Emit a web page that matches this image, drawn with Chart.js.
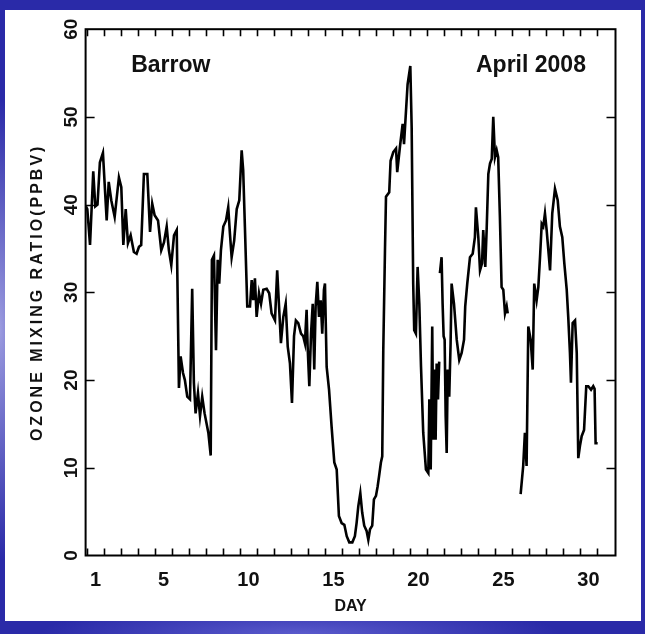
<!DOCTYPE html>
<html>
<head>
<meta charset="utf-8">
<script src="https://cdn.jsdelivr.net/npm/chart.js@4.4.1/dist/chart.umd.min.js"></script>
<style>
  html, body { margin: 0; padding: 0; }
  body {
    width: 645px; height: 634px; overflow: hidden; position: relative;
    background-color: #2a2aa8;
    background-image:
      radial-gradient(ellipse 40px 230px at 0px 330px, #9c9ce0 0%, rgba(42,42,168,0) 100%),
      radial-gradient(ellipse 260px 30px at 300px 634px, #5a5acc 0%, rgba(42,42,168,0) 100%);
  }
  #panel { position: absolute; left: 5px; top: 10px; width: 636px; height: 611px; background: #fff; }
  #chart { position: absolute; left: 0; top: 0; }
</style>
</head>
<body>
<div id="panel"></div>
<canvas id="chart" width="645" height="634"></canvas>
<script>
// April 2008, day of month (fractional), ozone in ppbv; null = no data
const days = [
  0.94, 1.02, 1.18, 1.37, 1.49, 1.62, 1.76, 1.94, 2.16, 2.28, 2.43, 2.63, 2.88, 3.02, 3.14, 3.28,
  3.41, 3.57, 3.76, 3.92, 4.06, 4.19, 4.35, 4.55, 4.71, 4.84, 4.98, 5.18, 5.37, 5.53, 5.69, 5.82,
  5.96, 6.12, 6.28, 6.41, 6.51, 6.65, 6.76, 6.90, 7.06, 7.19, 7.29, 7.39, 7.53, 7.65, 7.78, 7.92,
  8.14, 8.28, 8.35, 8.47, 8.59, 8.69, 8.78, 8.88, 9.02, 9.18, 9.31, 9.41, 9.51, 9.66, 9.81, 9.96,
  10.10, 10.19, 10.29, 10.43, 10.59, 10.69, 10.78, 10.88, 10.98, 11.12, 11.24, 11.37, 11.57, 11.72,
  11.86, 12.06, 12.19, 12.31, 12.41, 12.55, 12.69, 12.81, 12.94, 13.06, 13.18, 13.29, 13.43, 13.59,
  13.72, 13.82, 13.92, 13.98, 14.08, 14.18, 14.28, 14.37, 14.45, 14.55, 14.65, 14.75, 14.84, 14.94,
  15.00, 15.10, 15.24, 15.39, 15.55, 15.69, 15.82, 15.98, 16.14, 16.28, 16.43, 16.61, 16.76, 16.86,
  16.96, 17.08, 17.19, 17.31, 17.45, 17.55, 17.65, 17.78, 17.88, 18.00, 18.10, 18.18, 18.29, 18.37,
  18.43, 18.53, 18.59, 18.78, 18.86, 19.02, 19.18, 19.25, 19.41, 19.57, 19.65, 19.86, 20.02, 20.10,
  20.19, 20.25, 20.35, 20.45, 20.55, 20.65, 20.78, 20.94, 21.08, 21.14, 21.22, 21.31, 21.37, 21.45,
  21.51, 21.57, 21.65, 21.72, 21.74, 21.76, 21.86, 21.92, 21.98, 22.04, 22.10, 22.16, 22.22, 22.31,
  22.39, 22.45, 22.59, 22.75, 22.90, 23.04, 23.18, 23.25, 23.37, 23.53, 23.69, 23.82, 23.88, 24.02,
  24.12, 24.24, 24.31, 24.43, 24.51, 24.61, 24.71, 24.81, 24.90, 25.00, 25.10, 25.19, 25.29, 25.39,
  25.49, 25.59, 25.69, 25.75, 26.00, 26.51, 26.66, 26.76, 26.86, 26.96, 27.10, 27.22, 27.31, 27.45,
  27.55, 27.65, 27.75, 27.84, 27.94, 28.04, 28.24, 28.37, 28.53, 28.69, 28.82, 28.96, 29.08, 29.22,
  29.31, 29.41, 29.47, 29.57, 29.71, 29.81, 29.90, 30.00, 30.10, 30.24, 30.37, 30.49, 30.65, 30.78,
  30.86, 30.92, 31.04
];
const ozone = [
  39.8, 39.5, 35.4, 43.8, 39.8, 40.0, 44.8, 45.9, 38.2, 42.6, 40.5, 38.6, 43.1, 42.0, 35.4, 39.5,
  35.6, 36.5, 34.6, 34.4, 35.2, 35.4, 43.5, 43.5, 36.9, 40.1, 38.8, 38.2, 34.8, 35.7, 37.5, 34.8,
  33.1, 36.5, 37.1, 19.1, 22.7, 20.8, 20.0, 18.1, 17.8, 30.4, 19.7, 16.2, 18.5, 15.9, 18.1, 16.2,
  14.0, 11.4, 33.7, 34.2, 23.4, 33.7, 31.0, 34.8, 37.5, 38.2, 39.7, 36.7, 34.0, 35.9, 39.5, 40.5,
  46.2, 43.9, 37.5, 28.4, 28.4, 31.4, 29.1, 31.6, 27.2, 29.9, 28.7, 30.3, 30.4, 29.9,
  27.6, 26.8, 32.5, 28.0, 24.2, 27.2, 28.7, 23.8, 21.9, 17.4, 25.0, 26.8, 26.5, 25.3,
  25.0, 24.2, 28.0, 23.8, 19.3, 25.3, 28.7, 21.2, 28.4, 31.2, 27.2, 29.1, 25.3, 30.3,
  31.0, 21.5, 18.9, 14.7, 10.6, 9.8, 4.5, 3.7, 3.5, 2.2, 1.5, 1.5, 2.2, 3.7,
  5.6, 7.1, 4.9, 3.4, 2.8, 1.8, 3.0, 3.4, 6.4, 6.8, 7.9, 9.0, 10.6, 11.3,
  23.4, 34.8, 40.9, 41.4, 45.0, 46.0, 46.4, 43.7, 46.6, 49.2, 46.9, 53.7, 55.8, 48.8,
  31.0, 25.7, 25.3, 32.9, 28.7, 21.5, 14.0, 9.8, 9.4, 17.8, 9.8, 26.1, 13.2, 21.2,
  13.2, 21.9, 17.8, 22.1, null, 32.2, 34.0, 28.7, 25.0, 24.6, 15.9, 11.7, 21.2, 18.1,
  24.2, 31.0, 28.7, 24.6, 22.3, 23.1, 24.6, 28.4, 31.0, 34.0, 34.4, 36.3, 39.7, 36.3,
  32.5, 33.3, 37.1, 32.9, 37.1, 43.5, 44.7, 45.2, 50.0, 45.4, 46.2, 45.4, 38.6, 30.6,
  30.3, 27.6, 28.4, 27.6, null, 7.0, 10.2, 14.0, 10.2, 26.1, 24.6, 21.2, 31.0, 29.1,
  30.6, 34.0, 37.8, 37.5, 39.0, 37.1, 32.5, 39.0, 41.8, 40.5, 37.5, 36.3, 33.3, 30.3,
  27.2, 23.1, 19.7, 26.5, 26.8, 23.1, 11.1, 12.5, 13.6, 14.3, 19.3, 19.3, 18.9, 19.3,
  19.0, 12.8, 12.8
];
const dayLabels = [1, 5, 10, 15, 20, 25, 30];
const dayTicks = Array.from({ length: 31 }, (_, i) => i + 1);
const ozoneTicks = [0, 10, 20, 30, 40, 50, 60];

const FONT = "'Liberation Sans', Arial, sans-serif";

// frame, inward tick marks, y title and the two labels inside the plot
const framePlugin = {
  id: "frame",
  afterDraw(chart) {
    const { ctx, chartArea: a, scales: { x, y } } = chart;
    ctx.save();
    ctx.strokeStyle = "#000";
    ctx.lineWidth = 2;
    ctx.strokeRect(a.left, a.top, a.right - a.left, a.bottom - a.top);
    ctx.lineWidth = 1.6;
    ctx.beginPath();
    dayTicks.forEach((d) => {
      const px = Math.round(x.getPixelForValue(d)) + 0.5;
      ctx.moveTo(px, a.bottom); ctx.lineTo(px, a.bottom - 7);
      ctx.moveTo(px, a.top); ctx.lineTo(px, a.top + 7);
    });
    ozoneTicks.slice(1, -1).forEach((v) => {
      const py = Math.round(y.getPixelForValue(v)) + 0.5;
      ctx.moveTo(a.left, py); ctx.lineTo(a.left + 9, py);
      ctx.moveTo(a.right, py); ctx.lineTo(a.right - 9, py);
    });
    ctx.stroke();

    ctx.fillStyle = "#111";
    ctx.font = "bold 23px " + FONT;
    ctx.textBaseline = "middle";
    ctx.textAlign = "left";
    ctx.fillText("Barrow", x.getPixelForValue(3.6), y.getPixelForValue(55.9));
    ctx.textAlign = "right";
    ctx.fillText("April 2008", x.getPixelForValue(30.35), y.getPixelForValue(55.9));

    // y axis title, letter-spaced like the original
    ctx.translate(38, (a.top + a.bottom) / 2);
    ctx.rotate(-Math.PI / 2);
    ctx.font = "bold 16px " + FONT;
    ctx.letterSpacing = "3px";
    ctx.textAlign = "center";
    ctx.fillText("OZONE MIXING RATIO(PPBV)", 0, 0);
    ctx.restore();
  }
};

const points = days.map((d, i) => ({ x: d, y: ozone[i] }));

new Chart(document.getElementById("chart"), {
  type: "line",
  data: {
    datasets: [{
      data: points,
      borderColor: "#000",
      borderWidth: 2.6,
      pointRadius: 0,
      tension: 0,
      spanGaps: false
    }]
  },
  options: {
    responsive: false,
    animation: false,
    events: [],
    layout: { padding: { top: 29.2, right: 29.5, left: 0, bottom: 0 } },
    plugins: { legend: { display: false }, tooltip: { enabled: false } },
    scales: {
      x: {
        type: "linear",
        min: 0.92,
        max: 32.09,
        afterBuildTicks: (s) => { s.ticks = dayLabels.map((d) => ({ value: d + 0.5 })); },
        afterFit: (s) => { s.height = 78.5; },
        grid: { display: false, drawTicks: false },
        border: { display: false },
        ticks: {
          autoSkip: false, maxRotation: 0, padding: 13, color: "#111",
          font: { family: FONT, size: 20, weight: "bold" },
          callback: (v) => String(Math.floor(v))
        },
        title: {
          display: true, text: "DAY", color: "#111",
          font: { family: FONT, size: 16, weight: "bold" },
          padding: { top: 0, bottom: 17.5 }
        }
      },
      y: {
        min: 0,
        max: 60,
        afterBuildTicks: (s) => { s.ticks = ozoneTicks.map((v) => ({ value: v })); },
        afterFit: (s) => { s.width = 85.6; },
        grid: { display: false, drawTicks: false },
        border: { display: false },
        ticks: {
          minRotation: 90, maxRotation: 90, crossAlign: "center", padding: 3, color: "#111",
          font: { family: FONT, size: 19, weight: "bold" }
        }
      }
    }
  },
  plugins: [framePlugin]
});
</script>
</body>
</html>
